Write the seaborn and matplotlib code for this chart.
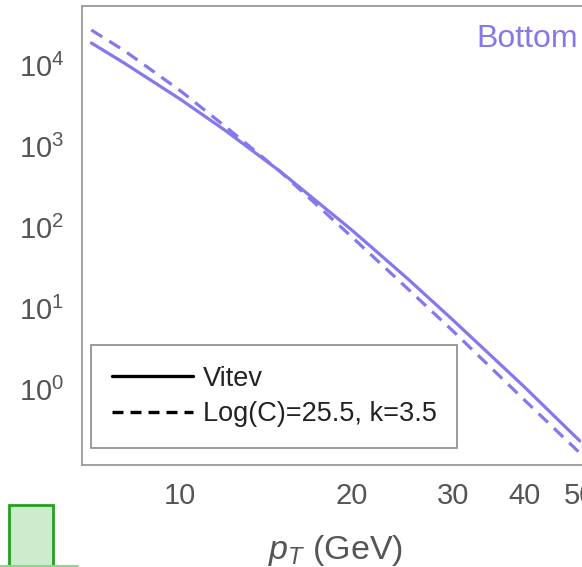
import numpy as np
import pandas as pd
import matplotlib
matplotlib.use("Agg")
import matplotlib.pyplot as plt
import seaborn as sns
from matplotlib.lines import Line2D
from matplotlib.patches import Rectangle
from matplotlib.ticker import FixedLocator, NullLocator, FixedFormatter

# ---- data ----
pt = [7, 8, 10, 12, 15, 20, 25, 30, 40, 50]
vitev = [18700, 10500, 3800, 1553, 480, 90.8, 23.0, 7.1, 1.06, 0.228]
fit = [27000, 14970, 4840, 1741, 477, 74.6, 17.3, 5.2, 0.731, 0.162]
series_names = ["Vitev", "Log(C)=25.5, k=3.5"]
xticks = [10, 20, 30, 40, 50]
xticklabels = ["10", "20", "30", "40", "50"]
yticks = [1, 10, 100, 1000, 10000]
panel_title = "Bottom"

sns.set_style("white")
plt.rcParams["font.family"] = ["Liberation Sans", "DejaVu Sans"]
plt.rcParams["mathtext.fontset"] = "custom"
plt.rcParams["mathtext.rm"] = "Liberation Sans"
plt.rcParams["mathtext.it"] = "Liberation Sans:italic"
plt.rcParams["mathtext.default"] = "regular"

W, H = 582, 567
fig = plt.figure(figsize=(W / 100, H / 100), dpi=100)
left, right, top, bottom = 82, 603, 6, 465
ax = fig.add_axes([left / W, 1 - bottom / H, (right - left) / W, (bottom - top) / H])

purple = "#8378EC"
df = pd.DataFrame({"pt": pt + pt, "val": vitev + fit,
                   "series": [series_names[0]] * len(pt) + [series_names[1]] * len(pt)})
sns.lineplot(data=df[df.series == series_names[0]], x="pt", y="val", ax=ax,
             color=purple, lw=2.3, legend=False)
sns.lineplot(data=df[df.series == series_names[1]], x="pt", y="val", ax=ax,
             color=purple, lw=2.3, legend=False)
ax.lines[1].set_linestyle((0, (4.0, 2.6)))

ax.set_xscale("log")
ax.set_yscale("log")
ax.set_xlim(6.74, 54.9)
ax.set_ylim(0.115, 53500)

ax.xaxis.set_major_locator(FixedLocator(xticks))
ax.xaxis.set_major_formatter(FixedFormatter(xticklabels))
ax.xaxis.set_minor_locator(NullLocator())
ax.yaxis.set_major_locator(FixedLocator(yticks))
ax.yaxis.set_major_formatter(FixedFormatter([r"$10^{%d}$" % int(np.log10(v)) for v in yticks]))
ax.yaxis.set_minor_locator(NullLocator())

tick_color = "#555555"
spine_color = "#9a9a9a"
ax.tick_params(axis="both", which="major", direction="inout", length=10, width=1.0,
               color="#666666", labelsize=21, labelcolor=tick_color)
ax.tick_params(axis="x", pad=7)
ax.tick_params(axis="y", pad=8)
for s in ax.spines.values():
    s.set_color(spine_color)
    s.set_linewidth(1.3)

ax.set_xlabel(r"$\mathit{p}_{\mathit{T}}$ (GeV)", fontsize=24.5, color=tick_color, labelpad=17)
ax.xaxis.label.set_x(0.4866)
ax.set_ylabel("")

fig.text(578 / W, 1 - 24 / H, panel_title, ha="right", va="top", fontsize=23, color=purple)

handles = [Line2D([], [], color="black", lw=2.4),
           Line2D([], [], color="black", lw=2.4, linestyle=(0, (3.3, 2.1)))]
leg = ax.legend(handles, series_names, loc="upper left",
                bbox_to_anchor=(91 / W, 1 - 345 / H), bbox_transform=fig.transFigure,
                borderaxespad=0, fontsize=19.5, handlelength=3.0, handletextpad=0.37,
                labelspacing=0.36, borderpad=0.76, fancybox=False, framealpha=1,
                edgecolor="#8a8a8a")
leg.get_frame().set_linewidth(1.2)
for t in leg.get_texts():
    t.set_color("#222222")

# fragment of the neighbouring panel at the bottom-left
fig.add_artist(Rectangle((9 / W, -0.01), 44 / W, (567 - 505) / H + 0.01,
                         transform=fig.transFigure, fc="#cdebcd", ec="#22a022", lw=2))
fig.add_artist(Line2D([0, 78 / W], [1 / H, 1 / H], transform=fig.transFigure,
                      color="#8fd48f", lw=1.5))

fig.savefig("out.png", dpi=100)
